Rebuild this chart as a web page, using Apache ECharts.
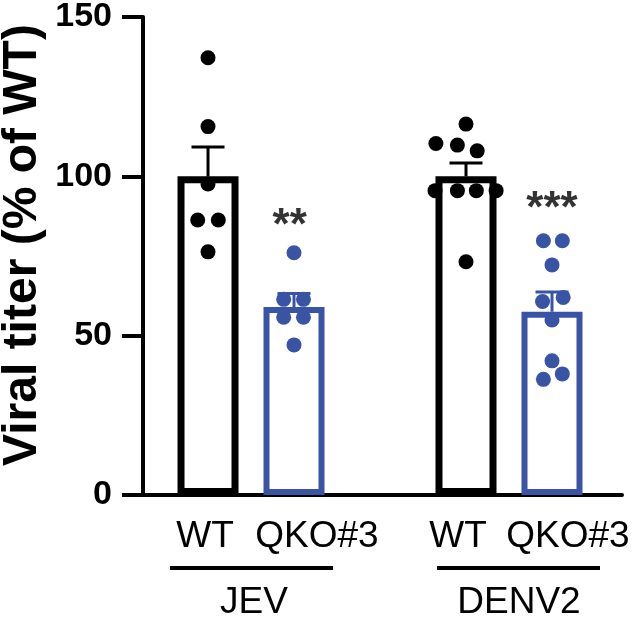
<!DOCTYPE html>
<html><head><meta charset="utf-8">
<script src="https://cdn.jsdelivr.net/npm/echarts@6/dist/echarts.min.js"></script>
<style>html,body{margin:0;padding:0;background:#fff}#c{width:634px;height:622px}</style>
</head><body><div id="c"></div>
<script>
// ---- data ----
const barNames = ['JEV WT', 'JEV QKO#3', 'DENV2 WT', 'DENV2 QKO#3'];
const barPos = [0, 1, 3, 4];              // x slot of each bar
const means = [100, 59, 100, 57.5];
const sems = [9.2, 4.2, 4.2, 6.2];
const jevWT = [137.2, 115.6, 97.6, 86.3, 86.3, 76.3];
const jevWTJitter = [0, 0, 0, -0.12, 0.12, 0];
const jevKO = [76.0, 61.4, 61.4, 55.8, 55.8, 47.1];
const jevKOJitter = [0, -0.12, 0.11, -0.12, 0.11, 0];
const denWT = [116.4, 110.3, 109.8, 108.0, 95.5, 95.5, 95.5, 95.5, 73.2];
const denWTJitter = [0, -0.35, -0.1, 0.13, -0.36, -0.1, 0.12, 0.35, 0];
const denKO = [79.8, 79.8, 72.2, 60.7, 62.0, 54.9, 42.1, 36.3, 38.0];
const denKOJitter = [-0.1, 0.12, 0, -0.11, 0.13, 0, 0, -0.1, 0.12];
const sigText = ['', '**', '', '***'];
const sigLevel = [0, 84, 0, 89.5];
const subLabels = ['WT', 'QKO#3', 'WT', 'QKO#3'];
const groupLabels = ['JEV', 'DENV2'];
const yTicks = [0, 50, 100, 150];
const yTitle = 'Viral titer (% of WT)';

// ---- styles / layout ----
const BLACK = '#000000';
const BLUE = '#3a54a5';
const barColors = [BLACK, BLUE, BLACK, BLUE];
const labelSlots = [-0.035, 1.267, 2.907, 4.186];
const FONT = '"Liberation Sans", Arial, Helvetica, sans-serif';

const dotsets = [
  [jevWT, jevWTJitter], [jevKO, jevKOJitter], [denWT, denWTJitter], [denKO, denKOJitter]
];
const dotSeries = dotsets.map((d, i) => ({
  type: 'scatter',
  name: barNames[i] + ' points',
  data: d[0].map((v, k) => [barPos[i] + d[1][k], v]),
  symbol: 'circle',
  symbolSize: 15,
  itemStyle: { color: barColors[i], opacity: 1 },
  z: 5,
  silent: true
}));

const chart = echarts.init(document.getElementById('c'), null, { renderer: 'canvas' });
chart.setOption({
  animation: false,
  backgroundColor: '#fff',
  grid: { left: 143, right: 12, top: 17, bottom: 127, containLabel: false, outerBoundsMode: 'none' },
  xAxis: {
    type: 'value', min: -0.756, max: 4.814,
    axisLine: { onZero: false, lineStyle: { color: BLACK, width: 4 } },
    axisTick: { show: false },
    splitLine: { show: false },
    axisLabel: {
      customValues: labelSlots,
      formatter: function (v) {
        let best = 0;
        labelSlots.forEach((s, i) => { if (Math.abs(s - v) < Math.abs(labelSlots[best] - v)) best = i; });
        return subLabels[best];
      },
      color: BLACK, fontSize: 37, fontFamily: FONT, margin: 23
    }
  },
  yAxis: {
    type: 'value', min: 0, max: 150, interval: 50,
    axisLine: { show: true, onZero: false, lineStyle: { color: BLACK, width: 4 } },
    axisTick: { show: true, length: 21, lineStyle: { color: BLACK, width: 4 } },
    splitLine: { show: false },
    axisLabel: {
      customValues: yTicks,
      color: BLACK, fontSize: 34, fontWeight: 'bold', fontFamily: FONT, margin: 31
    }
  },
  series: [
    {
      type: 'bar',
      name: 'mean',
      barWidth: 61,
      data: means.map((m, i) => ({
        value: [barPos[i], m],
        itemStyle: { color: '#ffffff', borderColor: barColors[i], borderWidth: i % 2 === 0 ? 7 : 6 }
      })),
      z: 2,
      silent: true
    },
    {
      type: 'custom',
      name: 'SEM',
      data: means.map((m, i) => [barPos[i], m, sems[i], i]),
      renderItem: function (params, api) {
        const x = api.value(0), m = api.value(1), s = api.value(2), idx = api.value(3);
        const p0 = api.coord([x, m]);
        const p1 = api.coord([x, m + s]);
        const col = barColors[idx];
        return {
          type: 'group',
          children: [
            { type: 'line', shape: { x1: p0[0], y1: p0[1], x2: p1[0], y2: p1[1] }, style: { stroke: col, lineWidth: 3 } },
            { type: 'line', shape: { x1: p1[0] - 16.5, y1: p1[1], x2: p1[0] + 16.5, y2: p1[1] }, style: { stroke: col, lineWidth: 3 } }
          ]
        };
      },
      z: 3,
      silent: true
    },
    ...dotSeries,
    {
      type: 'scatter',
      name: 'significance',
      data: sigText.map((t, i) => ({ value: [barPos[i] - (i === 1 ? 0.05 : 0), sigLevel[i]], label: { formatter: t } })).filter((d, i) => sigText[i]),
      symbolSize: 0,
      label: { show: true, position: 'inside', color: BLACK, fontSize: 44, fontWeight: 'bold', fontFamily: FONT, textBorderWidth: 0 },
      z: 6,
      silent: true
    }
  ],
  graphic: [
    { type: 'text', x: 23, y: 245, rotation: Math.PI / 2,
      style: { text: yTitle, fill: BLACK, font: 'bold 48px ' + FONT, textAlign: 'center', textVerticalAlign: 'middle' } },
    { type: 'rect', shape: { x: 170, y: 566, width: 163, height: 4 }, style: { fill: BLACK } },
    { type: 'rect', shape: { x: 437, y: 566, width: 163, height: 4 }, style: { fill: BLACK } },
    { type: 'text', x: 254, y: 603, style: { text: groupLabels[0], fill: BLACK, font: '37px ' + FONT, textAlign: 'center', textVerticalAlign: 'middle' } },
    { type: 'text', x: 519, y: 603, style: { text: groupLabels[1], fill: BLACK, font: '37px ' + FONT, textAlign: 'center', textVerticalAlign: 'middle' } }
  ]
});
</script>
</body></html>
